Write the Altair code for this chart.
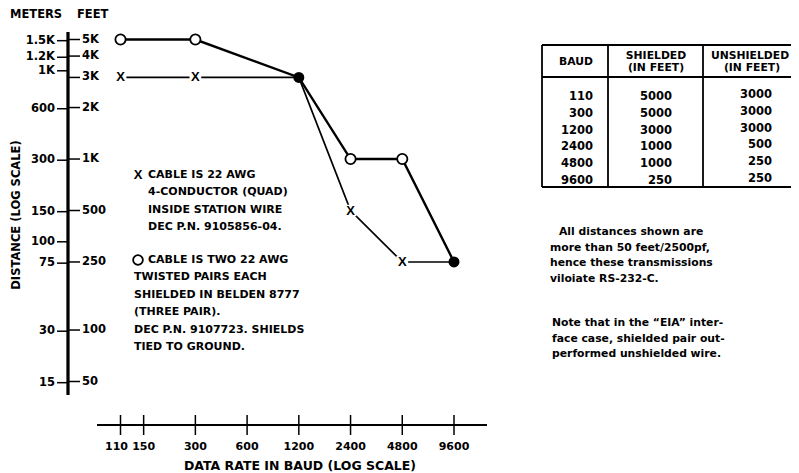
import altair as alt
import pandas as pd

# ---------------- data ----------------
baud = [110, 300, 1200, 2400, 4800, 9600]
shielded_ft = [5000, 5000, 3000, 1000, 1000, 250]
unshielded_ft = [3000, 3000, 3000, 500, 250, 250]

x_ticks = [110, 150, 300, 600, 1200, 2400, 4800, 9600]
feet_ticks = [5000, 4000, 3000, 2000, 1000, 500, 250, 100, 50]
feet_labels = ["5K", "4K", "3K", "2K", "1K", "500", "250", "100", "50"]
meter_ticks = [1500, 1200, 1000, 600, 300, 150, 100, 75, 30, 15]
meter_labels = ["1.5K", "1.2K", "1K", "600", "300", "150", "100", "75", "30", "15"]
FT_PER_M = 3.28084

legend_x_lines = ["CABLE IS 22 AWG", "4-CONDUCTOR (QUAD)", "INSIDE STATION WIRE",
                  "DEC P.N. 9105856-04."]
legend_o_lines = ["CABLE IS TWO 22 AWG", "TWISTED PAIRS EACH", "SHIELDED IN BELDEN 8777",
                  "(THREE PAIR).", "DEC P.N. 9107723. SHIELDS", "TIED TO GROUND."]

table_baud = ["110", "300", "1200", "2400", "4800", "9600"]
table_shielded = ["5000", "5000", "3000", "1000", "1000", "250"]
table_unshielded = ["3000", "3000", "3000", "500", "250", "250"]

note1 = ["All distances shown are", "more than 50 feet/2500pf,",
         "hence these transmissions", "viloiate RS-232-C."]
note2 = ["Note that in the \u201cEIA\u201d inter-", "face case, shielded pair out-",
         "performed unshielded wire."]

# ---------------- layout ----------------
W, H = 783, 465
FONT = "DejaVu Sans"
XFONT = "Liberation Sans Narrow, Liberation Sans"
XS = alt.Scale(type="log", domain=[110, 9600], range=[112.5, 446])
YS = alt.Scale(type="log", domain=[50, 5000], range=[373.5, 31.5])


def xq(f):
    return alt.X(f, type="quantitative", scale=XS, axis=None)


def yq(f):
    return alt.Y(f, type="quantitative", scale=YS, axis=None)


def px():
    return alt.X("px:Q", scale=None, axis=None)


def py():
    return alt.Y("py:Q", scale=None, axis=None)


def text_layer(df, size, align="left", weight="bold", font=FONT):
    return alt.Chart(df).mark_text(font=font, fontSize=size, fontWeight=weight, align=align,
                                   baseline="middle", color="black").encode(
        x=px(), y=py(), text="text:N")


def block(lines, xs, y0, step):
    return pd.DataFrame({"px": xs, "py": [y0 + i * step for i in range(len(lines))], "text": lines})


series = pd.DataFrame({"baud": baud, "shielded": shielded_ft, "unshielded": unshielded_ft})
both = series[series.shielded == series.unshielded]
diff = series[series.shielded != series.unshielded]

line_s = alt.Chart(series).mark_line(color="black", strokeWidth=2.4).encode(
    x=xq("baud"), y=yq("shielded"))
line_u = alt.Chart(series).mark_line(color="black", strokeWidth=1.7).encode(
    x=xq("baud"), y=yq("unshielded"))
mask_u = alt.Chart(diff).mark_point(shape="square", size=95, filled=True, fill="white",
                                    stroke="white", opacity=1).encode(x=xq("baud"), y=yq("unshielded"))
x_marks = alt.Chart(diff).mark_text(text="X", font=XFONT, fontWeight="bold",
                                    fontSize=13, color="black", baseline="middle").encode(
    x=xq("baud"), y=yq("unshielded"))
o_marks = alt.Chart(diff).mark_point(shape="circle", size=105, filled=True, fill="white",
                                     stroke="black", strokeWidth=1.8, opacity=1).encode(
    x=xq("baud"), y=yq("shielded"))
dots = alt.Chart(both).mark_circle(size=120, color="black", opacity=1).encode(
    x=xq("baud"), y=yq("shielded"))

# ---- y axis (feet right, meters left) ----
feet_df = pd.DataFrame({"ft": feet_ticks, "label": feet_labels})
meter_df = pd.DataFrame({"ft": [m * FT_PER_M for m in meter_ticks], "label": meter_labels})
y_line = alt.Chart(feet_df).mark_rule(color="black", strokeWidth=2.2).encode(
    x=alt.value(60), y=alt.value(24), y2=alt.value(387))
feet_tk = alt.Chart(feet_df).mark_rule(color="black", strokeWidth=1.5).encode(
    y=yq("ft"), x=alt.value(60), x2=alt.value(72))
feet_lb = alt.Chart(feet_df).mark_text(font=FONT, fontSize=11.5, fontWeight="bold", align="left",
                                       baseline="middle", color="black").encode(
    y=yq("ft"), x=alt.value(74), text="label:N")
meter_tk = alt.Chart(meter_df).mark_rule(color="black", strokeWidth=1.5).encode(
    y=yq("ft"), x=alt.value(49), x2=alt.value(60))
meter_lb = alt.Chart(meter_df).mark_text(font=FONT, fontSize=11.5, fontWeight="bold", align="right",
                                         baseline="middle", color="black").encode(
    y=yq("ft"), x=alt.value(47), text="label:N")

units = text_layer(pd.DataFrame({"px": [2, 69], "py": [7, 7], "text": ["METERS", "FEET"]}), 11.5)
y_title = alt.Chart(pd.DataFrame({"t": ["DISTANCE (LOG SCALE)"]})).mark_text(
    font=FONT, fontSize=11.5, fontWeight="bold", angle=270, align="center", baseline="middle",
    color="black").encode(x=alt.value(9), y=alt.value(207), text="t:N")

# ---- x axis ----
xt_df = pd.DataFrame({"b": x_ticks, "label": [str(v) for v in x_ticks]})
first_lbl = xt_df.iloc[:1]
rest_lbl = xt_df.iloc[1:]
x_line = alt.Chart(xt_df).mark_rule(color="black", strokeWidth=2.2).encode(
    x=alt.value(89), x2=alt.value(479), y=alt.value(417))
x_tk = alt.Chart(xt_df).mark_rule(color="black", strokeWidth=1.5).encode(
    x=xq("b"), y=alt.value(407), y2=alt.value(427))
x_lb = alt.Chart(rest_lbl).mark_text(font=FONT, fontSize=11, fontWeight="bold", align="center",
                                     baseline="middle", color="black").encode(
    x=xq("b"), y=alt.value(439), text="label:N")
x_lb0 = alt.Chart(first_lbl).mark_text(font=FONT, fontSize=11, fontWeight="bold", align="center",
                                       baseline="middle", color="black", dx=-4).encode(
    x=xq("b"), y=alt.value(439), text="label:N")
x_title = alt.Chart(pd.DataFrame({"t": ["DATA RATE IN BAUD (LOG SCALE)"]})).mark_text(
    font=FONT, fontSize=12.5, fontWeight="bold", align="center", baseline="middle",
    color="black").encode(x=alt.value(292), y=alt.value(458), text="t:N")

# ---- legend ----
LS = 17.4
leg1 = text_layer(block(legend_x_lines, [140] * 4, 167, LS), 11)
leg2 = text_layer(block(legend_o_lines, [140] + [126] * 5, 252, LS), 11)
leg_x = alt.Chart(pd.DataFrame({"t": ["X"]})).mark_text(
    font=XFONT, fontWeight="bold", fontSize=13, color="black",
    baseline="middle", align="center").encode(x=alt.value(130), y=alt.value(167), text="t:N")
leg_o = alt.Chart(pd.DataFrame({"t": ["O"]})).mark_point(
    shape="circle", size=95, filled=False, stroke="black", strokeWidth=1.8, opacity=1).encode(
    x=alt.value(130), y=alt.value(252))

# ---- table ----
TL, TR, TT, TB, TH = 534, 800, 37, 179, 69
C1, C2 = 600, 695
grid = pd.DataFrame({
    "px": [TL, C1, C2, TL, TL, TL],
    "px2": [TL, C1, C2, TR, TR, TR],
    "py": [TT, TT, TT, TT, TH, TB],
    "py2": [TB, TB, TB, TT, TH, TB],
})
table_grid = alt.Chart(grid).mark_rule(color="black", strokeWidth=1.8).encode(
    x=px(), x2="px2:Q", y=py(), y2="py2:Q")
hdr = pd.DataFrame({
    "px": [568, 648, 648, 742, 744],
    "py": [54, 47.5, 60, 47.5, 60],
    "text": ["BAUD", "SHIELDED", "(IN FEET)", "UNSHIELDED", "(IN FEET)"],
})
table_hdr = text_layer(hdr, 10.8, align="center")
RS = 16.8
n = len(table_baud)
body = pd.concat([
    block(table_baud, [585] * n, 89, RS),
    block(table_shielded, [664] * n, 89, RS),
    block(table_unshielded, [764] * n, 87, RS),
])
table_body = text_layer(body, 11.5, align="right")

# ---- notes ----
notes = pd.concat([
    block(note1, [551] + [542] * 3, 224, 15.5),
    block(note2, [544] * 3, 315, 15.7),
])
notes_layer = text_layer(notes, 10.8)

chart = alt.layer(
    table_grid, table_hdr, table_body, notes_layer,
    y_line, feet_tk, feet_lb, meter_tk, meter_lb, units, y_title,
    x_line, x_tk, x_lb, x_lb0, x_title,
    leg1, leg2, leg_x, leg_o,
    line_s, line_u, mask_u, x_marks, o_marks, dots,
).resolve_scale(x="independent", y="independent").properties(
    width=W, height=H, autosize="none", padding=0, background="white"
).configure_view(strokeWidth=0)

chart.save("out.html", embed_options={"renderer": "svg", "actions": False})
